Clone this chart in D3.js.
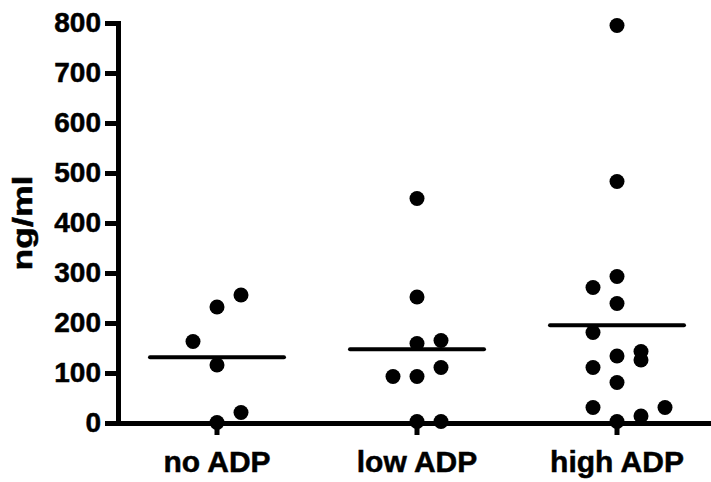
<!DOCTYPE html>
<html>
<head>
<meta charset="utf-8">
<script src="https://cdn.jsdelivr.net/npm/d3@7"></script>
<style>
  body { margin: 0; background: #fff; }
  text { font-family: Arial, "Liberation Sans", sans-serif; font-weight: bold; fill: #000; stroke: #000; stroke-width: 0.5px; }
</style>
</head>
<body>
<div class="chart"></div>
<script>
// ng/ml per group
var groups = ["no ADP", "low ADP", "high ADP"];
var noADP = [256, 232, 163, 116, 21, 1];
var lowADP = [449, 252, 165, 159, 111, 93, 93, 3, 3];
var highADP = [795, 483, 293, 271, 239, 181, 134, 143, 126, 111, 81, 31, 31, 14, 3];
// column slot of each point inside its group (scatter spread)
var noSlot = [1, 0, -1, 0, 1, 0];
var lowSlot = [0, 0, 1, 0, 1, -1, 0, 0, 1];
var highSlot = [0, 0, 0, -1, 0, -1, 0, 1, 1, -1, 0, -1, 2, 1, 0];
var yTicks = [0, 100, 200, 300, 400, 500, 600, 700, 800];

var svgWidth = 711;
var svgHeight = 482;

var svg = d3.select(".chart")
  .append("svg")
  .attr("width", svgWidth)
  .attr("height", svgHeight);

var xScale = d3.scaleBand().domain(groups).range([117, 717]);
var yScale = d3.scaleLinear().domain([0, 800]).range([423, 23]);
var slotWidth = 24;

var series = [
  { name: groups[0], values: noADP, slots: noSlot },
  { name: groups[1], values: lowADP, slots: lowSlot },
  { name: groups[2], values: highADP, slots: highSlot }
];

// y axis
var leftAxis = d3.axisLeft(yScale).tickValues(yTicks).tickSize(13).tickSizeOuter(0).tickPadding(4);
var yAxis = svg.append("g")
  .attr("transform", "translate(118,0)")
  .call(leftAxis);
yAxis.select(".domain").attr("stroke-width", 5).attr("stroke-linecap", "square");
yAxis.selectAll(".tick line").attr("stroke-width", 5);
yAxis.selectAll(".tick text").style("font-size", "28px");

// x axis
var bottomAxis = d3.axisBottom(xScale).tickSize(12).tickSizeOuter(0).tickPadding(16);
var xAxis = svg.append("g")
  .attr("transform", "translate(0,423)")
  .call(bottomAxis);
xAxis.select(".domain").attr("stroke-width", 5);
xAxis.selectAll(".tick line").attr("stroke-width", 5);
xAxis.selectAll(".tick text").style("font-size", "30px");

// y title (drawn wide, as in the original)
svg.append("text")
  .attr("transform", "translate(32," + yScale(400) + ") rotate(-90) scale(1.27,1)")
  .attr("text-anchor", "middle")
  .style("font-size", "28px")
  .text("ng/ml");

// points
series.forEach(function(s) {
  var cx = xScale(s.name) + xScale.bandwidth() / 2;
  svg.append("g")
    .selectAll("circle")
    .data(s.values)
    .enter()
    .append("circle")
    .attr("cx", function(d, i) { return cx + s.slots[i] * slotWidth; })
    .attr("cy", function(d) { return yScale(d); })
    .attr("r", 7.5)
    .attr("fill", "#000");

  // mean line
  var m = d3.mean(s.values);
  svg.append("line")
    .attr("x1", cx - 67)
    .attr("x2", cx + 67)
    .attr("y1", yScale(m))
    .attr("y2", yScale(m))
    .attr("stroke", "#000")
    .attr("stroke-width", 4)
    .attr("stroke-linecap", "round");
});
</script>
</body>
</html>
